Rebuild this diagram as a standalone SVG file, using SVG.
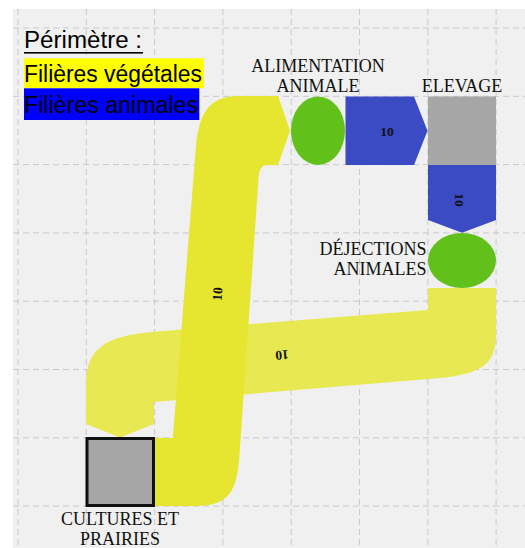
<svg xmlns="http://www.w3.org/2000/svg" width="525" height="548" viewBox="0 0 525 548">
<style>
.grid{stroke:#c9c9c9;stroke-width:1;stroke-dasharray:6 4;fill:none}
.lbl{font-family:"Liberation Serif",serif;font-size:18px;fill:#111}
.val{font-family:"Liberation Serif",serif;font-size:13.5px;font-weight:bold;fill:#111;text-anchor:middle;dominant-baseline:central}
.leg{font-family:"Liberation Sans",Arial,sans-serif;font-size:23px;fill:#000}
.box{fill:#a6a6a6}
.green{fill:#62c01b}
.blue{fill:#3a4bc3}
</style>
<rect x="0" y="0" width="525" height="548" fill="#ffffff"/>
<rect x="13" y="9" width="512" height="539" fill="#f0f0f0"/>
<g id="grid">
<path class="grid" d="M18 9V548M86.3 9V548M154.6 9V548M222.9 9V548M291.2 9V548M359.5 9V548M427.8 9V548M496.1 9V548"/>
<path class="grid" d="M13 28H525M13 96.3H525M13 164.6H525M13 232.9H525M13 301.2H525M13 369.5H525M13 437.8H525M13 506.1H525"/>
</g>
<g id="connectors">
<g id="flow-dejections-cultures">
<path fill="#e8e852" d="M428 288 L496 288 L496 335 C496 365 480 374 440 378 L154 402 L154 424 L120 437.5 L86 424 L86 385 C86 348 105 336 154 331.7 L428 310 Z"/>
<text class="val" transform="translate(282 355) rotate(175.4)">10</text>
</g>
<g id="flow-cultures-alimentation">
<path fill="#e6e630" d="M154 506 L196 506 C230 506 237 490 239.5 455 L258.5 178 C259 169 262 165 267 165 L278 165 L290 130.5 L278 96 L238 96 C210 96 198 112 195.5 152 L172.8 438 L154 438 Z"/>
<text class="val" transform="translate(217.5 294) rotate(-86.2)">10</text>
</g>
<g id="flow-alimentation-elevage">
<path class="blue" d="M345.5 96.5 L414 96.5 L427.5 130.7 L414 165 L345.5 165 Z"/>
<text class="val" x="387" y="131">10</text>
</g>
<g id="flow-elevage-dejections">
<path class="blue" d="M428 165 L496 165 L496 220 L462 232.8 L428 220 Z"/>
<text class="val" transform="translate(459.5 200) rotate(90)">10</text>
</g>
</g>
<g id="node-alimentation">
<ellipse class="green" cx="318" cy="130.7" rx="27" ry="34.2"/>
<text class="lbl" x="318" y="72" text-anchor="middle">ALIMENTATION</text>
<text class="lbl" x="318" y="92" text-anchor="middle">ANIMALE</text>
</g>
<g id="node-elevage">
<rect class="box" x="428" y="96.5" width="68" height="68.5"/>
<text class="lbl" x="462" y="92" text-anchor="middle">ELEVAGE</text>
</g>
<g id="node-dejections">
<ellipse class="green" cx="462" cy="260.5" rx="34" ry="27.5"/>
<text class="lbl" x="426.5" y="255" text-anchor="end">DÉJECTIONS</text>
<text class="lbl" x="426.5" y="275" text-anchor="end">ANIMALES</text>
</g>
<g id="node-cultures">
<rect class="box" x="87" y="438.5" width="66.5" height="67" stroke="#111" stroke-width="3"/>
<text class="lbl" x="120" y="525" text-anchor="middle">CULTURES ET</text>
<text class="lbl" x="120" y="545" text-anchor="middle">PRAIRIES</text>
</g>
<g id="legend">
<text class="leg" x="24" y="48.3" textLength="118" lengthAdjust="spacingAndGlyphs">Périmètre :</text>
<rect x="24" y="52" width="119" height="1.6" fill="#000"/>
<rect x="24" y="58.3" width="180" height="30" fill="#ffff00"/>
<text class="leg" x="24" y="81.7" textLength="178" lengthAdjust="spacingAndGlyphs">Filières végétales</text>
<rect x="24" y="88.3" width="175.3" height="31.7" fill="#0000ff"/>
<text class="leg" x="24" y="113.3" textLength="174" lengthAdjust="spacingAndGlyphs">Filières animales</text>
</g>
</svg>
